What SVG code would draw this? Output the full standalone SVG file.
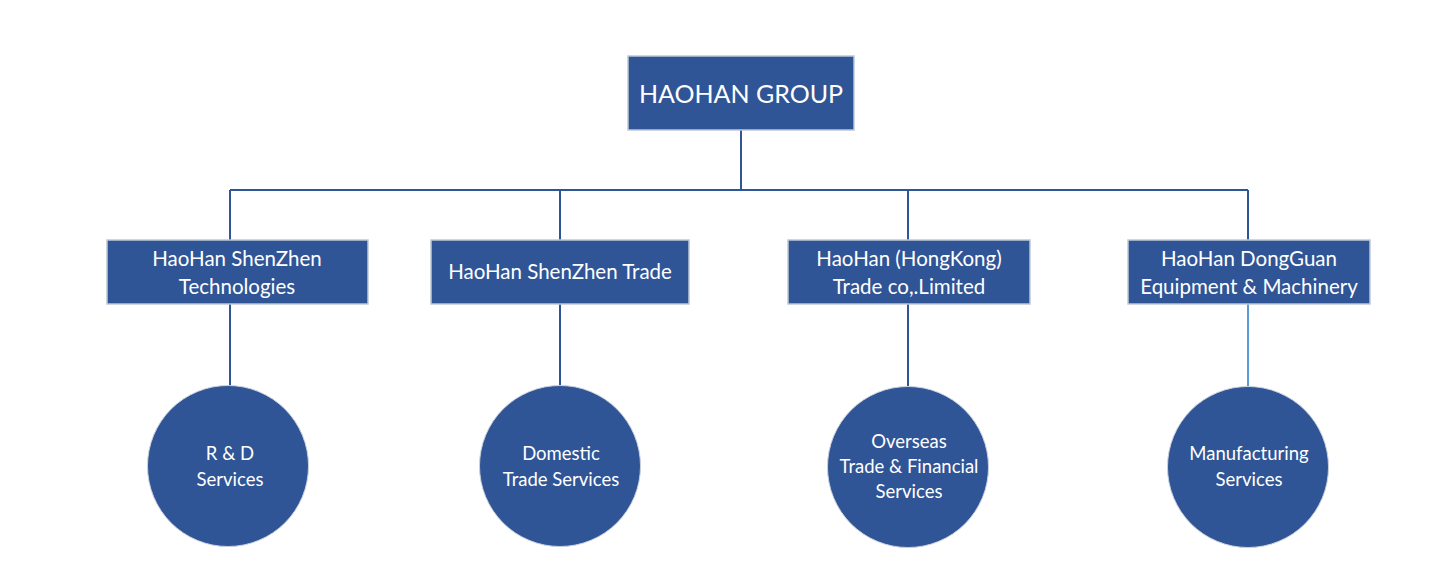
<svg xmlns="http://www.w3.org/2000/svg" width="1456" height="586" viewBox="0 0 1456 586">
<defs>
<style>
.box{fill:#2F5597;stroke:#BFC7D5;stroke-width:1.5}
.circ{fill:#2F5597;stroke:#C9D0DC;stroke-width:1}
.t{fill:#FFFFFF;font-family:Lato,"Open Sans","Liberation Sans",sans-serif;text-anchor:middle;dominant-baseline:central}
.bt{font-size:20.5px}
.ct{font-size:18.5px}
.ln{stroke:#2F5597;stroke-width:2;fill:none}
.ln2{stroke:#5B9BD5;stroke-width:2;fill:none}
</style>
</defs>
<rect width="1456" height="586" fill="#FFFFFF"/>
<g id="connectors">
<path class="ln" d="M741 130V190M230 190H1248M230 190V240M560 190V240M908 190V240M1248 190V240"/>
<path class="ln" d="M230 304V386M560 304V386M908 304V386"/>
<path class="ln2" d="M1248 304V386"/>
</g>
<g id="root">
<rect class="box" x="628" y="56" width="226" height="74"/>
<text class="t" x="741" y="93" font-size="25">HAOHAN GROUP</text>
</g>
<g id="n1">
<rect class="box" x="107" y="240" width="261" height="64"/>
<text class="t bt" x="237" y="258">HaoHan ShenZhen</text>
<text class="t bt" x="237" y="286">Technologies</text>
</g>
<g id="n2">
<rect class="box" x="431" y="240" width="258" height="64"/>
<text class="t bt" x="560" y="271">HaoHan ShenZhen Trade</text>
</g>
<g id="n3">
<rect class="box" x="788" y="240" width="242" height="64"/>
<text class="t bt" x="909" y="258">HaoHan (HongKong)</text>
<text class="t bt" x="909" y="286">Trade co,.Limited</text>
</g>
<g id="n4">
<rect class="box" x="1128" y="240" width="242" height="64"/>
<text class="t bt" x="1249" y="258">HaoHan DongGuan</text>
<text class="t bt" x="1249" y="286">Equipment &amp; Machinery</text>
</g>
<g id="c1">
<circle class="circ" cx="228" cy="466" r="80.5"/>
<text class="t ct" x="230" y="453">R &amp; D</text>
<text class="t ct" x="230" y="479">Services</text>
</g>
<g id="c2">
<circle class="circ" cx="560" cy="466" r="80.5"/>
<text class="t ct" x="561" y="453">Domestic</text>
<text class="t ct" x="561" y="479">Trade Services</text>
</g>
<g id="c3">
<circle class="circ" cx="908" cy="467" r="80.5"/>
<text class="t ct" x="909" y="441">Overseas</text>
<text class="t ct" x="909" y="466">Trade &amp; Financial</text>
<text class="t ct" x="909" y="491">Services</text>
</g>
<g id="c4">
<circle class="circ" cx="1248" cy="467" r="80.5"/>
<text class="t ct" x="1249" y="453">Manufacturing</text>
<text class="t ct" x="1249" y="479">Services</text>
</g>
</svg>
